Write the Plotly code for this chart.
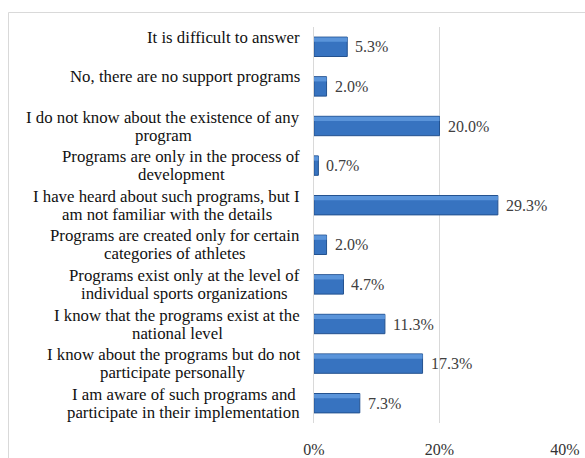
import plotly.graph_objects as go

# Survey responses, listed top to bottom as they appear on the chart
categories = [
    "It is difficult to answer",
    "No, there are no support programs",
    "I do not know about the existence of any\nprogram",
    "Programs are only in the process of\ndevelopment",
    "I have heard about such programs, but I\nam not familiar with the details",
    "Programs are created only for certain\ncategories of athletes",
    "Programs exist only at the level of\nindividual sports organizations",
    "I know that the programs exist at the\nnational level",
    "I know about the programs but do not\nparticipate personally",
    "I am aware of such programs and\nparticipate in their implementation",
]
shares = [5.3, 2.0, 20.0, 0.7, 29.3, 2.0, 4.7, 11.3, 17.3, 7.3]
x_ticks = [0, 20, 40]
x_tick_labels = ["0%", "20%", "40%"]

FONT = "Liberation Serif, Times New Roman, serif"
LABEL_SIZE = 16.8
W, H = 585, 458
L, R, T, B = 314, 20, 27, 35
plot_w = W - L - R
plot_h = H - T - B
LINE_GAP = 18          # px between wrapped label lines
LABEL_PAD = 14         # px between label block and the axis

# Times-compatible advance widths (per 1000 em) used to size label blocks
_ADV = {
    " ": 250, ",": 250, "I": 333, "N": 722, "P": 556,
    "a": 444, "b": 500, "c": 444, "d": 500, "e": 444, "f": 333, "g": 500,
    "h": 500, "i": 278, "j": 278, "k": 500, "l": 278, "m": 778, "n": 500,
    "o": 500, "p": 500, "q": 500, "r": 333, "s": 389, "t": 278, "u": 500,
    "v": 500, "w": 722, "x": 500, "y": 500, "z": 444,
}


def text_width(s, size):
    return sum(_ADV.get(ch, 500) for ch in s) * size / 1000


ids = list(range(len(categories)))

fig = go.Figure()

# Main bar body
fig.add_trace(
    go.Bar(
        x=shares,
        y=ids,
        orientation="h",
        width=0.49,
        marker=dict(color="#3773c0", line=dict(color="#24528f", width=1)),
        hoverinfo="skip",
    )
)
# Lighter sheen along the top edge of each bar
fig.add_trace(
    go.Bar(
        x=shares,
        y=ids,
        orientation="h",
        width=0.11,
        offset=-0.235,
        marker=dict(color="#5a94da", line=dict(width=0)),
        hoverinfo="skip",
    )
)

annotations = []

# Value labels just past the end of each bar
for i, v in zip(ids, shares):
    annotations.append(
        dict(
            x=v,
            xref="x",
            y=i,
            yref="y",
            text=f"{v:.1f}%",
            showarrow=False,
            xanchor="left",
            yanchor="middle",
            xshift=6,
            font=dict(family=FONT, size=16, color="#404040"),
        )
    )

# Category labels: each block is right-aligned against the axis and its
# wrapped lines are centred within the block.
for i, label in zip(ids, categories):
    lines = label.split("\n")
    block_w = max(text_width(s, LABEL_SIZE) for s in lines)
    if len(lines) == 1:
        shifts = [9.5]
    else:
        shifts = [LINE_GAP / 2, -LINE_GAP / 2]
    for line, dy in zip(lines, shifts):
        annotations.append(
            dict(
                x=0,
                xref="paper",
                y=i,
                yref="y",
                text=line,
                showarrow=False,
                xanchor="center",
                yanchor="middle",
                xshift=-LABEL_PAD - block_w / 2,
                yshift=dy,
                font=dict(family=FONT, size=LABEL_SIZE, color="#111111"),
            )
        )

# Light frame around the chart
def px_x(p):
    return (p - L) / plot_w

def px_y(p):
    return 1 - (p - T) / plot_h

shapes = [
    dict(
        type="rect",
        xref="paper",
        yref="paper",
        x0=px_x(8.5),
        x1=px_x(W + 10),
        y0=px_y(H + 10),
        y1=px_y(12.5),
        line=dict(color="#d9d9d9", width=1),
        fillcolor="rgba(0,0,0,0)",
        layer="below",
    )
]

fig.update_layout(
    width=W,
    height=H,
    margin=dict(l=L, r=R, t=T, b=B, autoexpand=False),
    paper_bgcolor="white",
    plot_bgcolor="white",
    showlegend=False,
    barmode="overlay",
    annotations=annotations,
    shapes=shapes,
    xaxis=dict(
        range=[0, 40],
        tickvals=x_ticks,
        ticktext=x_tick_labels,
        showgrid=True,
        gridcolor="#d9d9d9",
        gridwidth=1,
        zeroline=False,
        showline=False,
        ticks="outside",
        ticklen=12,
        tickcolor="rgba(0,0,0,0)",
        tickfont=dict(family=FONT, size=16, color="#333333"),
        automargin=False,
        fixedrange=True,
    ),
    yaxis=dict(
        range=[len(categories) - 0.5, -0.5],
        tickvals=ids,
        showticklabels=False,
        showgrid=False,
        zeroline=False,
        showline=True,
        linecolor="#d9d9d9",
        linewidth=1,
        ticks="",
        automargin=False,
        fixedrange=True,
    ),
)

fig.write_html("out.html")
